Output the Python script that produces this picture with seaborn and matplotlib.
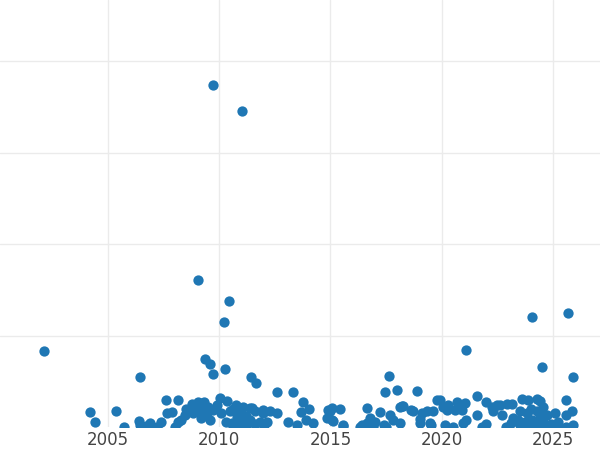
import seaborn as sns
import pandas as pd
import matplotlib.pyplot as plt

# values (x = year, y = value in grid units)
years = [
    2009.72, 2011.02, 2009.04, 2010.44, 2010.21, 2002.12, 2006.44, 2009.36, 2009.60, 2009.72,
    2010.26, 2011.43, 2011.65, 2012.60, 2013.30, 2017.63, 2017.45, 2018.00, 2018.90, 2021.09,
    2024.06, 2025.67, 2024.50, 2025.90, 2021.57,
    # 2004 - 2013
    2004.20, 2004.40, 2005.36, 2005.70, 2006.40, 2006.70, 2006.45, 2006.90, 2007.40, 2007.60,
    2008.13, 2007.64, 2007.90, 2008.13, 2008.46, 2008.76, 2009.06, 2009.31, 2008.80, 2009.13,
    2009.43, 2009.73, 2010.03, 2010.33, 2010.10, 2010.48, 2010.75, 2011.08, 2011.38, 2010.78,
    2010.56, 2011.00, 2011.38, 2011.60, 2011.98, 2012.28, 2012.58, 2012.13, 2011.83, 2013.10,
    2013.48, 2009.27, 2011.47, 2011.97, 2008.90, 2009.50, 2009.90, 2010.60, 2010.90, 2011.20,
    2009.20, 2009.60, 2010.30, 2010.90, 2011.20, 2011.60, 2012.00, 2010.60, 2008.50, 2008.30,
    2007.20, 2008.00,
    # 2013 - 2019
    2013.76, 2014.03, 2013.67, 2013.90, 2014.20, 2014.89, 2015.07, 2015.43, 2015.07, 2014.85,
    2015.56, 2016.33, 2016.64, 2016.78, 2017.22, 2018.12, 2014.98, 2015.13, 2015.58, 2016.40,
    2017.00, 2017.67, 2018.20, 2017.80, 2018.12, 2018.72, 2019.10, 2019.32, 2019.62, 2019.77,
    2019.00, 2019.47, 2016.62, 2018.26, 2018.64, 2019.00, 2019.50, 2017.40, 2016.90, 2017.50,
    # 2020 - 2026
    2019.92, 2020.30, 2020.67, 2021.05, 2020.22, 2020.60, 2021.57, 2022.00, 2022.24, 2022.62,
    2022.92, 2023.14, 2022.32, 2022.70, 2020.97, 2020.15, 2022.00, 2023.59, 2023.89, 2024.27,
    2024.42, 2024.57, 2023.52, 2023.82, 2023.44, 2023.74, 2024.04, 2024.42, 2024.72, 2024.27,
    2024.57, 2025.09, 2025.24, 2025.60, 2025.83, 2025.57, 2020.07, 2020.90, 2021.10, 2022.47,
    2023.20, 2023.50, 2023.90, 2024.20, 2024.60, 2024.90, 2025.20, 2025.60, 2025.90, 2021.80,
    2020.50, 2022.90, 2024.00, 2024.30, 2023.10,
]
values = [
    3.74, 3.45, 1.61, 1.38, 1.15, 0.83, 0.55, 0.74, 0.69, 0.58,
    0.63, 0.55, 0.48, 0.38, 0.38, 0.56, 0.38, 0.40, 0.39, 0.84,
    1.20, 1.25, 0.66, 0.55, 0.34,
    0.16, 0.05, 0.17, 0.00, 0.07, 0.01, 0.02, 0.04, 0.05, 0.29,
    0.29, 0.15, 0.16, 0.05, 0.13, 0.25, 0.27, 0.27, 0.15, 0.19,
    0.15, 0.19, 0.32, 0.28, 0.15, 0.17, 0.24, 0.22, 0.21, 0.11,
    0.04, 0.05, 0.08, 0.17, 0.15, 0.17, 0.15, 0.06, 0.06, 0.05,
    0.02, 0.26, 0.21, 0.19, 0.22, 0.22, 0.24, 0.20, 0.15, 0.12,
    0.10, 0.08, 0.06, 0.02, 0.00, 0.03, 0.02, 0.00, 0.20, 0.08,
    0.00, 0.00,
    0.27, 0.20, 0.16, 0.08, 0.04, 0.19, 0.21, 0.20, 0.08, 0.10,
    0.01, 0.00, 0.21, 0.10, 0.16, 0.22, 0.17, 0.07, 0.02, 0.02,
    0.05, 0.13, 0.23, 0.08, 0.04, 0.17, 0.15, 0.17, 0.17, 0.29,
    0.04, 0.04, 0.04, 0.23, 0.19, 0.09, 0.02, 0.02, 0.00, 0.00,
    0.29, 0.24, 0.27, 0.26, 0.19, 0.19, 0.13, 0.27, 0.22, 0.24,
    0.25, 0.25, 0.17, 0.13, 0.04, 0.02, 0.03, 0.31, 0.30, 0.31,
    0.28, 0.22, 0.17, 0.15, 0.08, 0.06, 0.08, 0.13, 0.13, 0.06,
    0.06, 0.15, 0.06, 0.13, 0.18, 0.30, 0.22, 0.19, 0.08, 0.24,
    0.10, 0.02, 0.01, 0.02, 0.00, 0.03, 0.01, 0.00, 0.02, 0.00,
    0.00, 0.00, 0.20, 0.18, 0.04,
]
year_ticks = [2005, 2010, 2015, 2020, 2025]
grid_levels = [1, 2, 3, 4]

df = pd.DataFrame({'year': years, 'value': values})

sns.set_style("white")
fig = plt.figure(figsize=(6, 4.5), dpi=100)
ax = fig.add_axes([0, 23 / 450, 1, 427 / 450])

sns.scatterplot(data=df, x='year', y='value', color='#1f77b4', s=55, linewidth=0, alpha=1, ax=ax, zorder=3)

ax.set_xlim(2000.15, 2027.11)
ax.set_ylim(0, 4.667)
ax.set_xticks(year_ticks)
ax.set_yticks(grid_levels)
ax.set_yticklabels([])
ax.grid(True, color='#ebebeb', linewidth=1.0, zorder=0)
ax.set_axisbelow(True)
ax.tick_params(axis='x', length=0, pad=3, labelsize=12, labelcolor='#444444')
ax.tick_params(axis='y', length=0)
ax.set_xlabel('')
ax.set_ylabel('')
for s in ax.spines.values():
    s.set_visible(False)

plt.savefig('out.png', dpi=100)
